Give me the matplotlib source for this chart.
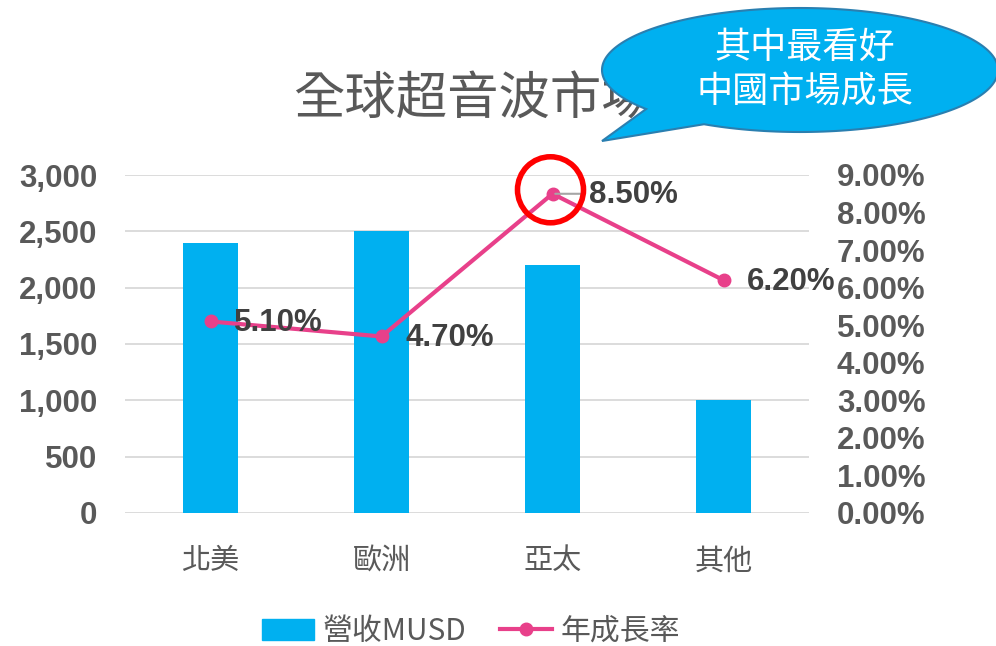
import matplotlib
matplotlib.use('Agg')
import matplotlib.pyplot as plt
from matplotlib.patches import Circle, PathPatch
from matplotlib.path import Path
from matplotlib.lines import Line2D
from matplotlib.patches import Patch
import numpy as np

# 資料
regions = ['北美', '歐洲', '亞太', '其他']
revenue = [2400, 2500, 2200, 1000]       # 營收 MUSD
growth = [5.10, 4.70, 8.50, 6.20]        # 年成長率 (%)
left_ticks = [0, 500, 1000, 1500, 2000, 2500, 3000]
right_ticks = [0, 1, 2, 3, 4, 5, 6, 7, 8, 9]

title = '全球超音波市場'
bubble_text = '其中最看好\n中國市場成長'

cjk = ['Noto Sans CJK TC', 'DejaVu Sans']
num = ['Liberation Sans', 'DejaVu Sans']
bar_color = '#00B0F0'
line_color = '#E8408A'
gray = '#595959'

W, H = 996, 646
fig = plt.figure(figsize=(W / 100, H / 100), dpi=100)
ax = fig.add_axes([125 / W, 1 - 513 / H, 684 / W, 338 / H])
ax2 = ax.twinx()

x = np.arange(len(regions))
ax.bar(x, revenue, width=0.32, color=bar_color, zorder=2)
ax.set_xlim(-0.5, len(regions) - 0.5)
ax.set_ylim(0, 3000)
ax.set_yticks(left_ticks)
ax.set_yticklabels([f'{v:,}' for v in left_ticks], family=num, weight='bold',
                   fontsize=22.5, color=gray)
ax.set_xticks(x)
ax.set_xticklabels(regions, family=cjk, fontsize=21, color=gray)
ax.tick_params(axis='y', length=0, pad=20)
ax.tick_params(axis='x', length=0, pad=24)
ax.yaxis.grid(True, color='#D9D9D9', lw=1.3, zorder=0)
ax.set_axisbelow(True)

ax2.plot(x, growth, color=line_color, lw=3, marker='o', markersize=9, zorder=3)
ax2.set_ylim(0, 9)
ax2.set_yticks(right_ticks)
ax2.set_yticklabels([f'{v:.2f}%' for v in right_ticks], family=num, weight='bold',
                    fontsize=22.5, color=gray)
ax2.tick_params(axis='y', length=0, pad=20)

for a in (ax, ax2):
    for s in a.spines.values():
        s.set_visible(False)

# 數據標籤
for i, g in enumerate(growth):
    dx = 26 if i == 2 else 17
    ax2.annotate(f'{g:.2f}%', (x[i], g), xytext=(dx, -1), textcoords='offset points',
                 ha='left', va='center', family=num, weight='bold', fontsize=22.5,
                 color='#404040', zorder=4)
# 8.50% 引導線
ax2.annotate('', (x[2], growth[2]), xytext=(24, 0), textcoords='offset points',
             arrowprops=dict(arrowstyle='-', color='#A6A6A6', lw=1.5))

# 圖例
handles = [Patch(color=bar_color),
           Line2D([], [], color=line_color, lw=3, marker='o', markersize=9)]
fig.legend(handles, ['營收MUSD', '年成長率'], loc='center', ncol=2,
           bbox_to_anchor=(471 / W, 1 - 631 / H), frameon=False,
           prop={'family': cjk, 'size': 21.5}, labelcolor=gray,
           handlelength=1.75, handletextpad=0.3, columnspacing=1.1)

# 疊加層 (像素座標)
ov = fig.add_axes([0, 0, 1, 1], zorder=10)
ov.set_xlim(0, W)
ov.set_ylim(H, 0)
ov.axis('off')
ov.patch.set_alpha(0)

ov.text(473, 100, title, family=cjk, fontsize=37, color=gray,
        ha='center', va='center', zorder=1)

# 對話框
cx, cy, a, b = 800, 70, 198, 62
t = np.radians(np.linspace(141, 360 + 119, 200))
pts = np.column_stack([cx + a * np.cos(t), cy + b * np.sin(t)])
pts = np.vstack([pts, [602, 141], pts[:1]])
bubble = PathPatch(Path(pts, closed=True), facecolor=bar_color, edgecolor='#2A7FB0',
                   lw=1.5, zorder=2)
ov.add_patch(bubble)
ov.text(805, 70, bubble_text, family=cjk, fontsize=26, color='white',
        ha='center', va='center', linespacing=1.3, zorder=3)

# 紅圈
fig.canvas.draw()
px, py = ax2.transData.transform((x[2], growth[2]))
ov.add_patch(Circle((px - 2, H - py - 4), 33, fill=False, edgecolor='#FF0000',
                    lw=4, zorder=4))

fig.savefig('out.png', dpi=100)
